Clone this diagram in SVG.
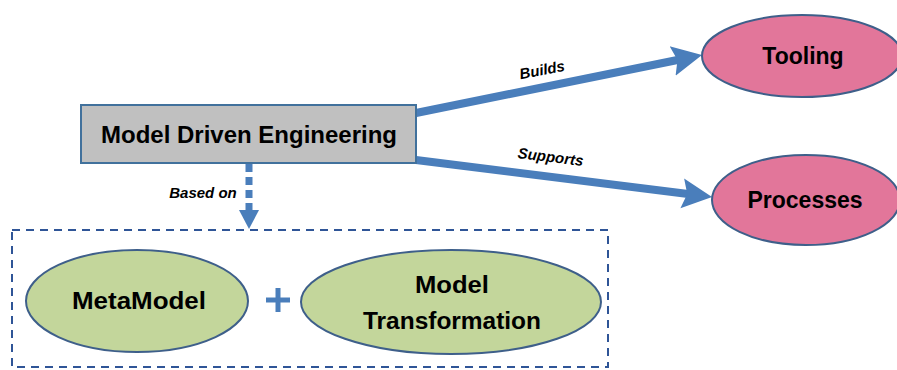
<svg xmlns="http://www.w3.org/2000/svg" width="897" height="370" viewBox="0 0 897 370">
<style>
  .lbl { font-family: "Liberation Sans", Arial, sans-serif; font-weight: bold; fill: #000; text-anchor: middle; }
  .big { font-size: 23px; }
  .edge { font-family: "Liberation Sans", Arial, sans-serif; font-weight: bold; font-style: italic; font-size: 15px; fill: #000; text-anchor: middle; }
  .pink { fill: #E2769A; stroke: #3E5F8A; stroke-width: 2; }
  .green { fill: #C3D69B; stroke: #3E5F8A; stroke-width: 2; }
  .conn { stroke: #4A7EBB; stroke-width: 8; fill: none; }
</style>
<defs>
  <marker id="ah" markerUnits="userSpaceOnUse" viewBox="0 0 30 32" markerWidth="30" markerHeight="32" refX="10" refY="16" orient="auto">
    <path d="M0,1 L30,16 L0,31 L5,16 z" fill="#4A7EBB"/>
  </marker>
</defs>
<rect width="897" height="370" fill="#fff"/>

<g id="connectors">
  <line class="conn" x1="416" y1="113" x2="682.4" y2="59" marker-end="url(#ah)"/>
  <line class="conn" x1="416" y1="160" x2="692.2" y2="194.5" marker-end="url(#ah)"/>
  <line x1="249" y1="164" x2="249" y2="210" stroke="#4A7EBB" stroke-width="7" stroke-dasharray="8 5"/>
  <polygon points="239,210 259,210 249,229" fill="#4A7EBB"/>
  <text class="edge" transform="translate(543,75) rotate(-11)">Builds</text>
  <text class="edge" transform="translate(550,162) rotate(7)">Supports</text>
  <text class="edge" x="203" y="198">Based on</text>
</g>

<g id="mde">
  <rect x="81" y="105" width="335" height="58" fill="#C0C0C0" stroke="#41719C" stroke-width="2"/>
  <text class="lbl" x="249" y="143" font-size="23" textLength="296" lengthAdjust="spacingAndGlyphs">Model Driven Engineering</text>
</g>

<g id="tooling">
  <ellipse class="pink" cx="802" cy="56" rx="100" ry="41"/>
  <text class="lbl big" x="803" y="64">Tooling</text>
</g>

<g id="processes">
  <ellipse class="pink" cx="806" cy="200" rx="94" ry="45"/>
  <text class="lbl big" x="805" y="208">Processes</text>
</g>

<g id="group">
  <rect x="12" y="230" width="596" height="137" fill="none" stroke="#2F5597" stroke-width="2" stroke-dasharray="8 6"/>
</g>

<g id="metamodel">
  <ellipse class="green" cx="137" cy="301" rx="111" ry="51"/>
  <text class="lbl big" x="139" y="309" textLength="134" lengthAdjust="spacingAndGlyphs">MetaModel</text>
</g>

<g id="plus">
  <line x1="266" y1="300" x2="290" y2="300" stroke="#4A7EBB" stroke-width="5"/>
  <line x1="278" y1="288" x2="278" y2="312" stroke="#4A7EBB" stroke-width="5"/>
</g>

<g id="transformation">
  <ellipse class="green" cx="451" cy="302" rx="150" ry="52"/>
  <text class="lbl big" x="452" y="293" textLength="74" lengthAdjust="spacingAndGlyphs">Model</text>
  <text class="lbl big" x="452" y="329" textLength="178" lengthAdjust="spacingAndGlyphs">Transformation</text>
</g>
</svg>
